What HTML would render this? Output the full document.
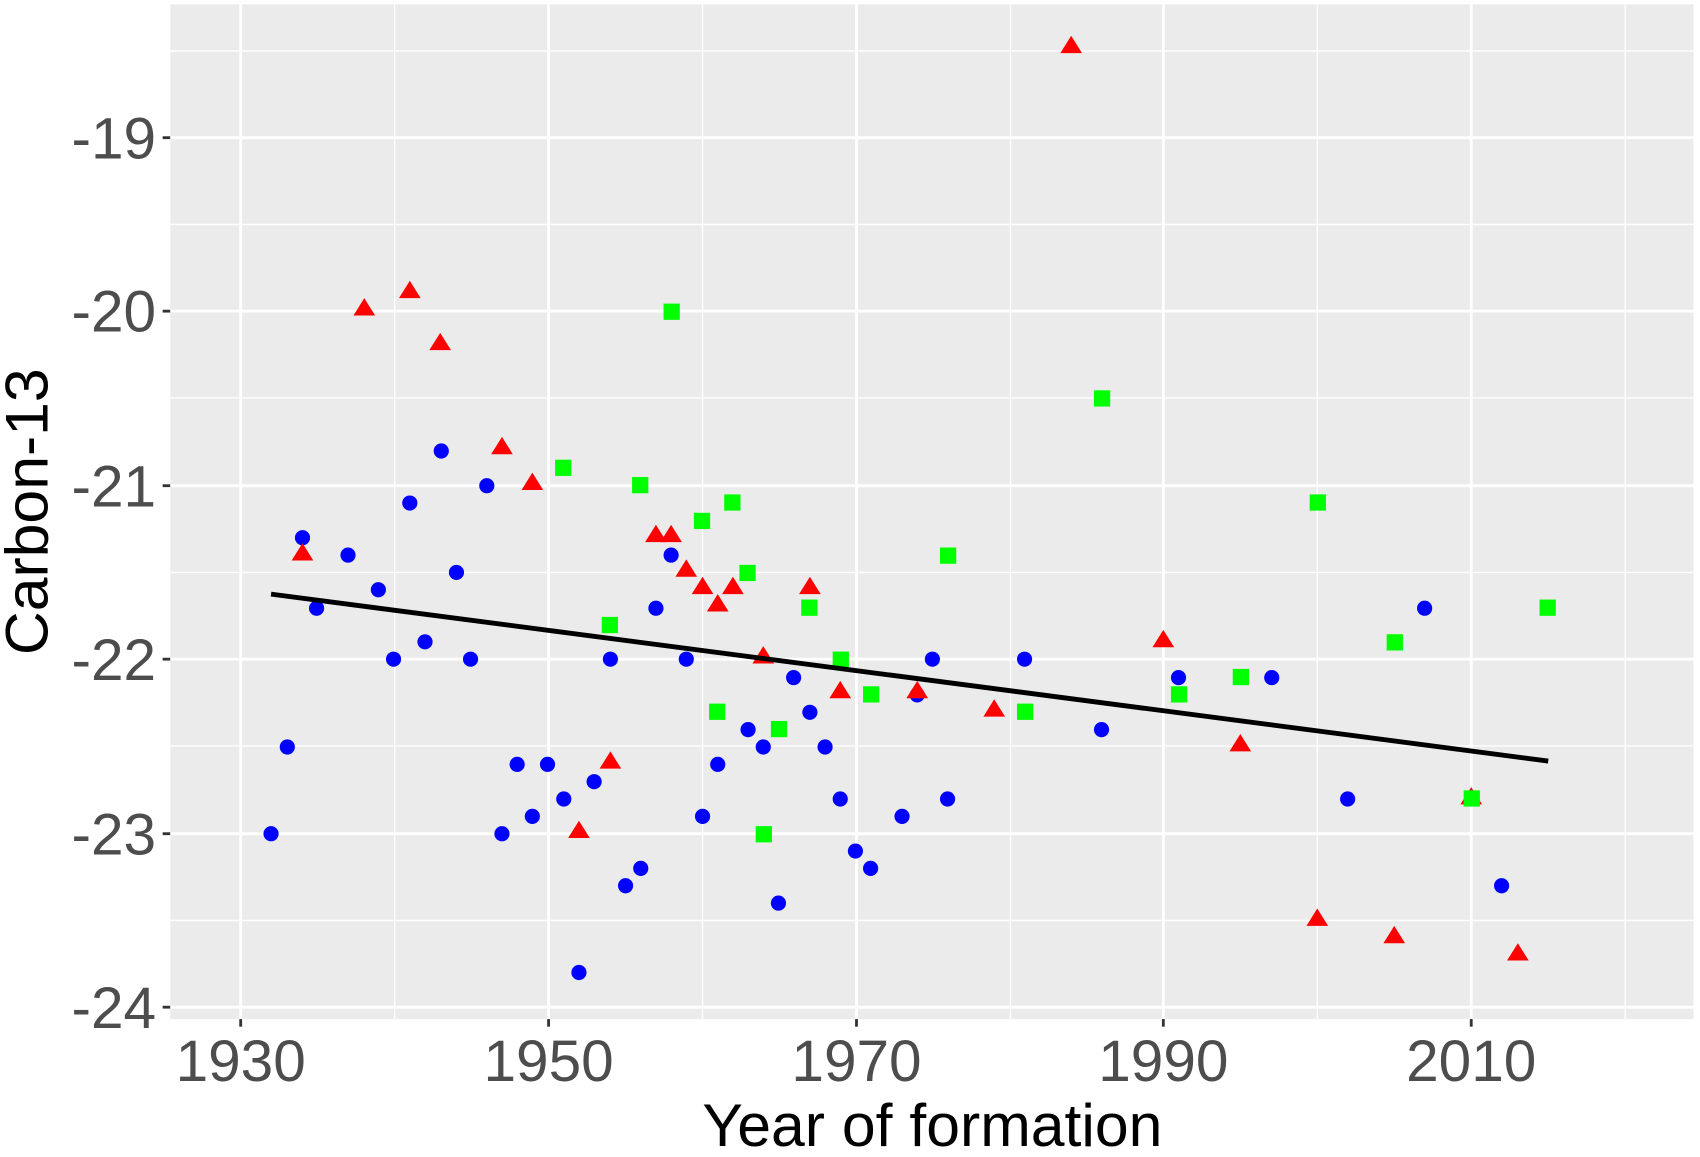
<!DOCTYPE html>
<html><head><style>html,body{margin:0;padding:0;background:#fff}svg{display:block}</style></head>
<body>
<svg width="1700" height="1157" viewBox="0 0 1568 1067.2" preserveAspectRatio="none" xmlns="http://www.w3.org/2000/svg" font-family="Liberation Sans, sans-serif">
<rect x="157" y="4" width="1405" height="936" fill="#ebebeb"/>
<g stroke="#fff" stroke-width="1.2">
<line x1="364" y1="4" x2="364" y2="940"/><line x1="648" y1="4" x2="648" y2="940"/><line x1="932" y1="4" x2="932" y2="940"/><line x1="1215" y1="4" x2="1215" y2="940"/><line x1="1499" y1="4" x2="1499" y2="940"/>
<line x1="157" y1="47" x2="1562" y2="47"/><line x1="157" y1="207" x2="1562" y2="207"/><line x1="157" y1="367" x2="1562" y2="367"/><line x1="157" y1="528" x2="1562" y2="528"/><line x1="157" y1="688" x2="1562" y2="688"/><line x1="157" y1="849" x2="1562" y2="849"/>
</g>
<g stroke="#fff" stroke-width="2.6">
<line x1="222" y1="4" x2="222" y2="940"/><line x1="506" y1="4" x2="506" y2="940"/><line x1="790" y1="4" x2="790" y2="940"/><line x1="1073" y1="4" x2="1073" y2="940"/><line x1="1357" y1="4" x2="1357" y2="940"/>
<line x1="157" y1="127" x2="1562" y2="127"/><line x1="157" y1="287" x2="1562" y2="287"/><line x1="157" y1="448" x2="1562" y2="448"/><line x1="157" y1="608" x2="1562" y2="608"/><line x1="157" y1="769" x2="1562" y2="769"/><line x1="157" y1="929" x2="1562" y2="929"/>
</g>
<g stroke="#333" stroke-width="2.6">
<line x1="150" y1="127" x2="157" y2="127"/><line x1="150" y1="287" x2="157" y2="287"/><line x1="150" y1="448" x2="157" y2="448"/><line x1="150" y1="608" x2="157" y2="608"/><line x1="150" y1="769" x2="157" y2="769"/><line x1="150" y1="929" x2="157" y2="929"/>
<line x1="222" y1="940" x2="222" y2="947"/><line x1="506" y1="940" x2="506" y2="947"/><line x1="790" y1="940" x2="790" y2="947"/><line x1="1073" y1="940" x2="1073" y2="947"/><line x1="1357" y1="940" x2="1357" y2="947"/>
</g>
<g fill="#4d4d4d" font-size="54" text-anchor="end">
<text x="144" y="146">-19</text><text x="144" y="306">-20</text><text x="144" y="467">-21</text><text x="144" y="627">-22</text><text x="144" y="788">-23</text><text x="144" y="948">-24</text>
</g>
<g fill="#4d4d4d" font-size="54" text-anchor="middle">
<text x="222" y="997">1930</text><text x="506" y="997">1950</text><text x="790" y="997">1970</text><text x="1073" y="997">1990</text><text x="1357" y="997">2010</text>
</g>
<text x="860" y="1057" font-size="56" text-anchor="middle" fill="#000">Year of formation</text>
<text transform="translate(44,472) rotate(-90)" font-size="56" text-anchor="middle" fill="#000">Carbon-13</text>
<g fill="#0000ff">
<circle cx="250" cy="769" r="7"/><circle cx="265" cy="689" r="7"/><circle cx="279" cy="496" r="7"/><circle cx="292" cy="561" r="7"/><circle cx="321" cy="512" r="7"/><circle cx="349" cy="544" r="7"/><circle cx="363" cy="608" r="7"/><circle cx="378" cy="464" r="7"/><circle cx="392" cy="592" r="7"/><circle cx="407" cy="416" r="7"/><circle cx="421" cy="528" r="7"/><circle cx="434" cy="608" r="7"/><circle cx="449" cy="448" r="7"/><circle cx="463" cy="769" r="7"/><circle cx="477" cy="705" r="7"/><circle cx="491" cy="753" r="7"/><circle cx="505" cy="705" r="7"/><circle cx="520" cy="737" r="7"/><circle cx="534" cy="897" r="7"/><circle cx="548" cy="721" r="7"/><circle cx="563" cy="608" r="7"/><circle cx="577" cy="817" r="7"/><circle cx="591" cy="801" r="7"/><circle cx="605" cy="561" r="7"/><circle cx="619" cy="512" r="7"/><circle cx="633" cy="608" r="7"/><circle cx="648" cy="753" r="7"/><circle cx="662" cy="705" r="7"/><circle cx="690" cy="673" r="7"/><circle cx="704" cy="689" r="7"/><circle cx="718" cy="833" r="7"/><circle cx="732" cy="625" r="7"/><circle cx="747" cy="657" r="7"/><circle cx="761" cy="689" r="7"/><circle cx="775" cy="737" r="7"/><circle cx="789" cy="785" r="7"/><circle cx="803" cy="801" r="7"/><circle cx="832" cy="753" r="7"/><circle cx="846" cy="641" r="7"/><circle cx="860" cy="608" r="7"/><circle cx="874" cy="737" r="7"/><circle cx="945" cy="608" r="7"/><circle cx="1016" cy="673" r="7"/><circle cx="1087" cy="625" r="7"/><circle cx="1173" cy="625" r="7"/><circle cx="1243" cy="737" r="7"/><circle cx="1314" cy="561" r="7"/><circle cx="1385" cy="817" r="7"/>
</g>
<g fill="#ff0000">
<path d="M279 501l10 16h-20z"/><path d="M336 275l10 16h-20z"/><path d="M378 259l10 16h-20z"/><path d="M406 307l10 16h-20z"/><path d="M463 403l10 16h-20z"/><path d="M491 436l10 16h-20z"/><path d="M534 757l10 16h-20z"/><path d="M563 693l10 16h-20z"/><path d="M605 484l10 16h-20z"/><path d="M619 484l10 16h-20z"/><path d="M633 516l10 16h-20z"/><path d="M648 532l10 16h-20z"/><path d="M662 548l10 16h-20z"/><path d="M676 532l10 16h-20z"/><path d="M704 596l10 16h-20z"/><path d="M747 532l10 16h-20z"/><path d="M775 628l10 16h-20z"/><path d="M846 628l10 16h-20z"/><path d="M917 645l10 16h-20z"/><path d="M988 33l10 16h-20z"/><path d="M1073 581l10 16h-20z"/><path d="M1144 677l10 16h-20z"/><path d="M1215 838l10 16h-20z"/><path d="M1286 854l10 16h-20z"/><path d="M1357 726l10 16h-20z"/><path d="M1400 870l10 16h-20z"/>
</g>
<g fill="#00ff00">
<rect x="512" y="424" width="15" height="15"/><rect x="555" y="569" width="15" height="15"/><rect x="583" y="440" width="15" height="15"/><rect x="612" y="280" width="15" height="15"/><rect x="640" y="473" width="15" height="15"/><rect x="654" y="649" width="15" height="15"/><rect x="668" y="456" width="15" height="15"/><rect x="682" y="521" width="15" height="15"/><rect x="697" y="762" width="15" height="15"/><rect x="711" y="665" width="15" height="15"/><rect x="739" y="553" width="15" height="15"/><rect x="768" y="601" width="15" height="15"/><rect x="796" y="633" width="15" height="15"/><rect x="867" y="505" width="15" height="15"/><rect x="938" y="649" width="15" height="15"/><rect x="1009" y="360" width="15" height="15"/><rect x="1080" y="633" width="15" height="15"/><rect x="1137" y="617" width="15" height="15"/><rect x="1208" y="456" width="15" height="15"/><rect x="1279" y="585" width="15" height="15"/><rect x="1350" y="729" width="15" height="15"/><rect x="1420" y="553" width="15" height="15"/>
</g>
<line x1="250" y1="548" x2="1428" y2="702" stroke="#000" stroke-width="4.5"/>
</svg>
</body></html>
